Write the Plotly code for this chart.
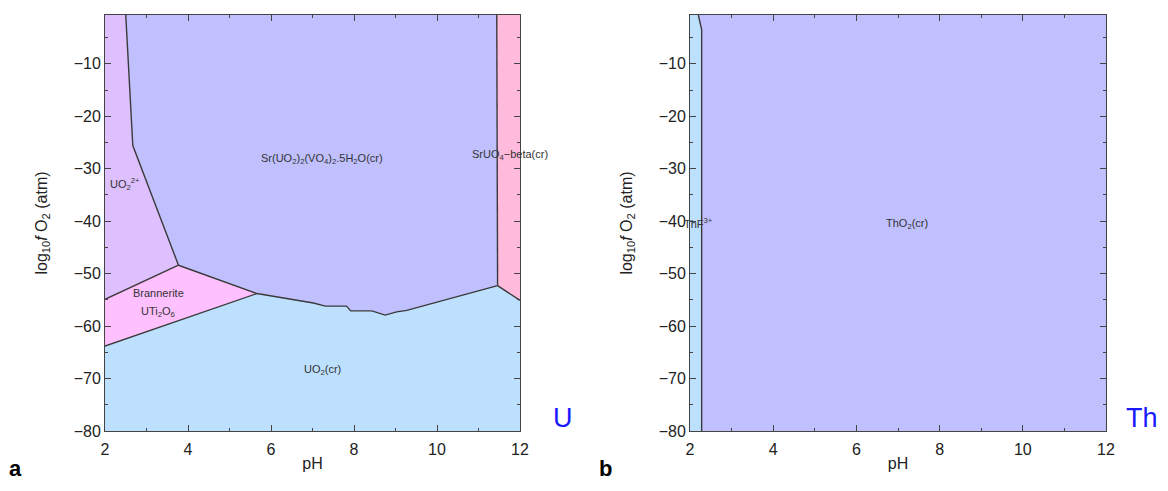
import plotly.graph_objects as go

# ---- axis extents ----
PH_MIN, PH_MAX = 2, 12
LF_MIN, LF_MAX = -80, -0.7

# ---- Panel a (U) boundary lines: pH and log10 fO2 ----
b_uo2pp_vanad_ph = [2.50, 2.67, 3.77]
b_uo2pp_vanad_lf = [LF_MAX, -25.6, -48.4]

b_uo2pp_bran_ph = [2.00, 3.77]
b_uo2pp_bran_lf = [-54.9, -48.4]

b_bran_vanad_ph = [3.77, 5.66]
b_bran_vanad_lf = [-48.4, -53.8]

b_bran_uo2_ph = [2.00, 5.66]
b_bran_uo2_lf = [-63.8, -53.8]

b_vanad_uo2_ph = [5.66, 7.02, 7.31, 7.82, 7.92, 8.43, 8.75, 9.03, 9.27, 11.46]
b_vanad_uo2_lf = [-53.8, -55.6, -56.2, -56.2, -57.1, -57.1, -57.9, -57.3, -57.0, -52.3]

b_vanad_sruo4_ph = [11.44, 11.46]
b_vanad_sruo4_lf = [LF_MAX, -52.3]

b_sruo4_uo2_ph = [11.46, 12.00]
b_sruo4_uo2_lf = [-52.3, -55.1]

# ---- Panel b (Th) boundary ----
b_thf_tho2_ph = [2.20, 2.28, 2.28]
b_thf_tho2_lf = [LF_MAX, -3.5, LF_MIN]

# ---- labels ----
labels_a_text = ["UO<sub>2</sub><sup>2+</sup>",
                 "Sr(UO<sub>2</sub>)<sub>2</sub>(VO<sub>4</sub>)<sub>2</sub>.5H<sub>2</sub>O(cr)",
                 "SrUO<sub>4</sub>\u2212beta(cr)",
                 "Brannerite", "UTi<sub>2</sub>O<sub>6</sub>", "UO<sub>2</sub>(cr)"]
labels_a_ph = [2.48, 7.23, 11.76, 3.28, 3.28, 7.23]
labels_a_lf = [-32.9, -28.1, -27.3, -53.6, -57.4, -68.4]

labels_b_text = ["ThF<sup>3+</sup>", "ThO<sub>2</sub>(cr)"]
labels_b_ph = [2.21, 7.21]
labels_b_lf = [-40.3, -40.6]

# ---- colours ----
C_VANAD = "#C0C0FF"
C_UO2PP = "#DEC0FF"
C_BRAN = "#FFC0FF"
C_UO2 = "#BEE0FF"
C_SRUO4 = "#FFBADC"
LINE_C = "#3a3a3a"
FONT = "Liberation Sans, Arial, sans-serif"

rev = lambda a: list(reversed(a))

fig = go.Figure()


def region(xs, ys, color, xa, ya):
    fig.add_trace(go.Scatter(x=xs + [xs[0]], y=ys + [ys[0]], fill="toself", fillcolor=color,
                             mode="lines", line=dict(width=0, color=color), hoverinfo="skip",
                             showlegend=False, xaxis=xa, yaxis=ya))


def bline(xs, ys, xa, ya):
    fig.add_trace(go.Scatter(x=xs, y=ys, mode="lines", line=dict(color=LINE_C, width=1.4),
                             hoverinfo="skip", showlegend=False, xaxis=xa, yaxis=ya))


# Panel a regions
region([PH_MIN] + b_uo2pp_vanad_ph + rev(b_uo2pp_bran_ph),
       [LF_MAX] + b_uo2pp_vanad_lf + rev(b_uo2pp_bran_lf), C_UO2PP, "x", "y")
region(b_uo2pp_vanad_ph + b_bran_vanad_ph + b_vanad_uo2_ph + rev(b_vanad_sruo4_ph),
       b_uo2pp_vanad_lf + b_bran_vanad_lf + b_vanad_uo2_lf + rev(b_vanad_sruo4_lf), C_VANAD, "x", "y")
region(b_uo2pp_bran_ph + b_bran_vanad_ph + rev(b_bran_uo2_ph),
       b_uo2pp_bran_lf + b_bran_vanad_lf + rev(b_bran_uo2_lf), C_BRAN, "x", "y")
region(b_bran_uo2_ph + b_vanad_uo2_ph + b_sruo4_uo2_ph + [PH_MAX, PH_MIN],
       b_bran_uo2_lf + b_vanad_uo2_lf + b_sruo4_uo2_lf + [LF_MIN, LF_MIN], C_UO2, "x", "y")
region(b_vanad_sruo4_ph + b_sruo4_uo2_ph + [PH_MAX],
       b_vanad_sruo4_lf + b_sruo4_uo2_lf + [LF_MAX], C_SRUO4, "x", "y")

for xs, ys in [(b_uo2pp_vanad_ph, b_uo2pp_vanad_lf), (b_uo2pp_bran_ph, b_uo2pp_bran_lf),
               (b_bran_vanad_ph, b_bran_vanad_lf), (b_bran_uo2_ph, b_bran_uo2_lf),
               (b_vanad_uo2_ph, b_vanad_uo2_lf), (b_vanad_sruo4_ph, b_vanad_sruo4_lf),
               (b_sruo4_uo2_ph, b_sruo4_uo2_lf)]:
    bline(xs, ys, "x", "y")

# Panel b regions
region([PH_MIN] + b_thf_tho2_ph + [PH_MIN], [LF_MAX] + b_thf_tho2_lf + [LF_MIN], C_UO2, "x2", "y2")
region(b_thf_tho2_ph + [PH_MAX, PH_MAX], b_thf_tho2_lf + [LF_MIN, LF_MAX], C_VANAD, "x2", "y2")
bline(b_thf_tho2_ph, b_thf_tho2_lf, "x2", "y2")

ann = []
for t, x, y in zip(labels_a_text, labels_a_ph, labels_a_lf):
    ann.append(dict(text=t, x=x, y=y, xref="x", yref="y", showarrow=False,
                    xanchor="center", yanchor="middle",
                    font=dict(size=11, color="#333", family=FONT)))
for t, x, y in zip(labels_b_text, labels_b_ph, labels_b_lf):
    ann.append(dict(text=t, x=x, y=y, xref="x2", yref="y2", showarrow=False,
                    xanchor="center", yanchor="middle",
                    font=dict(size=11, color="#333", family=FONT)))

# The page body adds an 8px margin all round: size the figure so the page fits the window
OFF = 8
W, H = 1168 - 2 * OFF, 491 - 2 * OFF
MT = 15 - OFF
MB = H - (431 - OFF)
PLOT_H = H - MT - MB


def px_ann(text, x, y, size, color, xanchor="center", yanchor="middle"):
    return dict(text=text, x=(x - OFF) / W, y=1 - (y - OFF - MT) / PLOT_H,
                xref="paper", yref="paper",
                showarrow=False, xanchor=xanchor, yanchor=yanchor,
                font=dict(size=size, color=color, family=FONT))


ann.append(px_ann("U", 563, 418, 27, "#1a1aff"))
ann.append(px_ann("Th", 1160, 418, 27, "#1a1aff", xanchor="right"))
ann.append(px_ann("<b>a</b>", 15, 483, 22, "black", yanchor="bottom"))
ann.append(px_ann("<b>b</b>", 605, 483, 22, "black", yanchor="bottom"))

axis_common = dict(showline=True, linecolor="#444", linewidth=1, mirror="allticks",
                   ticks="inside", ticklen=6, tickcolor="#444", tickwidth=1,
                   showgrid=False, zeroline=False, automargin=False,
                   tickfont=dict(size=16, color="#222", family=FONT))

xaxis_cfg = dict(axis_common, range=[PH_MIN, PH_MAX], tickvals=[2, 4, 6, 8, 10, 12],
                 ticklabelstandoff=4,
                 minor=dict(dtick=1, tick0=2, ticks="inside", ticklen=3, tickcolor="#444"),
                 title=dict(text="pH", font=dict(size=16, color="#222", family=FONT), standoff=0))
yaxis_cfg = dict(axis_common, range=[LF_MIN, LF_MAX], tickvals=[-80, -70, -60, -50, -40, -30, -20, -10],
                 ticktext=["\u221280", "\u221270", "\u221260", "\u221250", "\u221240", "\u221230",
                           "\u221220", "\u221210"],
                 minor=dict(dtick=5, tick0=0, ticks="inside", ticklen=3, tickcolor="#444"),
                 title=dict(text="log<sub>10</sub><i>f</i> O<sub>2</sub> (atm)",
                            font=dict(size=16, color="#222", family=FONT), standoff=22))

fig.update_layout(
    width=W, height=H,
    margin=dict(l=0, r=0, t=MT, b=MB, autoexpand=False),
    paper_bgcolor="white", plot_bgcolor="white",
    xaxis=dict(xaxis_cfg, domain=[(105 - OFF) / W, (520 - OFF) / W], anchor="y"),
    yaxis=dict(yaxis_cfg, domain=[0, 1], anchor="x"),
    xaxis2=dict(xaxis_cfg, domain=[(690 - OFF) / W, (1106 - OFF) / W], anchor="y2"),
    yaxis2=dict(yaxis_cfg, domain=[0, 1], anchor="x2"),
    annotations=ann,
    font=dict(family=FONT),
)

fig.write_html("out.html")
